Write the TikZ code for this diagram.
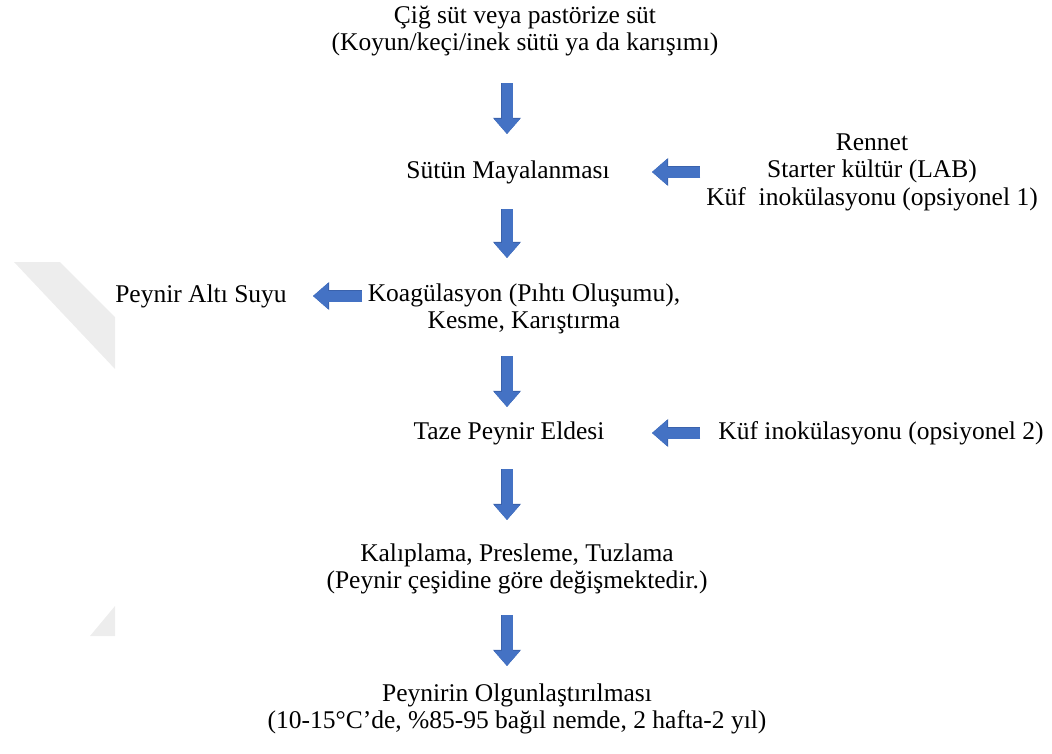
\documentclass[tikz,border=0pt]{standalone}
\usepackage{fontspec}
\setmainfont{Liberation Serif}
\usetikzlibrary{arrows.meta}
\definecolor{arrowblue}{HTML}{4472C4}
\definecolor{arrowdark}{HTML}{3A62AC}
\definecolor{wmark}{HTML}{EDEDED}
\tikzset{
  lbl/.style={font=\fontsize{25.5}{27.5}\selectfont, align=center, inner sep=0pt},
  barrow/.style={arrowblue, line width=11pt,
    -{Triangle[width=25pt,length=15pt]},
    preaction={draw=arrowdark, line width=12.4pt, -{Triangle[width=27pt,length=16.2pt]}}}
}
\begin{document}
\begin{tikzpicture}[x=1pt,y=-1pt]
\useasboundingbox (0,0) rectangle (1052,753);
% watermark fragments
\fill[wmark] (14,262) -- (60,262) -- (115,317) -- (115,369) -- cycle;
\fill[wmark] (90,636) -- (115,606) -- (115,636) -- cycle;

\node[lbl] (sut) at (525,31) {Çiğ süt veya pastörize süt\\(Koyun/keçi/inek sütü ya da karışımı)};
\node[lbl] (maya) at (508,172) {Sütün Mayalanması};
\node[lbl] (ren) at (872,172) {Rennet\\Starter kültür (LAB)\\Küf\ \ inokülasyonu (opsiyonel 1)};
\node[lbl] (koag) at (524,309) {Koagülasyon (Pıhtı Oluşumu),\\Kesme, Karıştırma};
\node[lbl] (alt) at (201,296) {Peynir Altı Suyu};
\node[lbl] (taze) at (509,433) {Taze Peynir Eldesi};
\node[lbl] (kuf) at (881,433) {Küf inokülasyonu (opsiyonel 2)};
\node[lbl] (kalip) at (517,569) {Kalıplama, Presleme, Tuzlama\\(Peynir çeşidine göre değişmektedir.)};
\node[lbl] (olg) at (517,709) {Peynirin Olgunlaştırılması\\(10-15°C’de, \%85-95 bağıl nemde, 2 hafta-2 yıl)};

\coordinate (d1s) at (507,83);  \coordinate (d1e) at (507,134);
\coordinate (d2s) at (507,209); \coordinate (d2e) at (507,258);
\coordinate (d3s) at (507,356); \coordinate (d3e) at (507,407);
\coordinate (d4s) at (507,469); \coordinate (d4e) at (507,520);
\coordinate (d5s) at (507,615); \coordinate (d5e) at (507,666);
\coordinate (l1s) at (700,172); \coordinate (l1e) at (652,172);
\coordinate (l2s) at (362,296); \coordinate (l2e) at (313,296);
\coordinate (l3s) at (700,433); \coordinate (l3e) at (652,433);

\draw[barrow] (d1s) -- (d1e);
\draw[barrow] (d2s) -- (d2e);
\draw[barrow] (d3s) -- (d3e);
\draw[barrow] (d4s) -- (d4e);
\draw[barrow] (d5s) -- (d5e);
\draw[barrow] (l1s) -- (l1e);
\draw[barrow] (l2s) -- (l2e);
\draw[barrow] (l3s) -- (l3e);
\end{tikzpicture}
\end{document}
